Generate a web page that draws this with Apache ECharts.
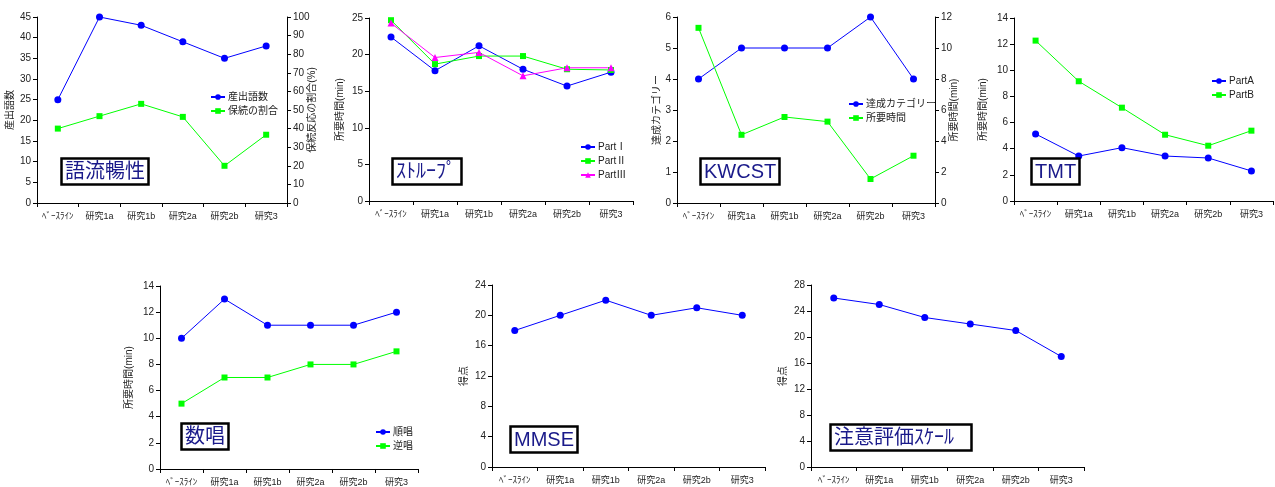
<!DOCTYPE html>
<html>
<head>
<meta charset="utf-8">
<script src="https://cdn.jsdelivr.net/npm/echarts@6/dist/echarts.min.js"></script>
<style>
  body { margin: 0; background: #fff; }
  #main { width: 1275px; height: 487px; }
</style>
</head>
<body>
<div id="main"></div>
<script>
  // categories
  var cats = ['ﾍﾞｰｽﾗｲﾝ', '研究1a', '研究1b', '研究2a', '研究2b', '研究3'];

  // 語流暢性
  var words = [25, 45, 43, 39, 35, 38];
  var persev = [40, 46.7, 53.3, 46.3, 20, 36.7];
  // ストループ
  var stroop1 = [22.4, 17.8, 21.2, 18.0, 15.7, 17.6];
  var stroop2 = [24.7, 18.7, 19.8, 19.8, 18.0, 17.9];
  var stroop3 = [24.3, 19.6, 20.3, 17.1, 18.2, 18.2];
  // KWCST
  var kwCat = [4, 5, 5, 5, 6, 4];
  var kwTime = [11.3, 4.4, 5.55, 5.25, 1.55, 3.05];
  // TMT
  var tmtA = [5.13, 3.44, 4.08, 3.44, 3.29, 2.3];
  var tmtB = [12.27, 9.16, 7.14, 5.07, 4.23, 5.38];
  // 数唱
  var digitFwd = [10, 13, 11, 11, 11, 12];
  var digitBwd = [5, 7, 7, 8, 8, 9];
  // MMSE
  var mmse = [18, 20, 22, 20, 21, 20];
  // 注意評価スケール
  var attn = [26, 25, 23, 22, 21, 17];

  var FONT = "'Liberation Sans', 'Noto Sans CJK JP', sans-serif";
  var BLUE = '#0000ff', GREEN = '#00ff00', PINK = '#ff00ff';

  var chart = echarts.init(document.getElementById('main'));

  // panel boxes [left, right, top, bottom] in px
  var boxes = [
    [37, 287, 17, 203],
    [369, 633, 18, 201],
    [677, 935, 17, 203],
    [1014, 1273, 18, 201],
    [160, 418, 286, 469],
    [492, 765, 285, 467],
    [811, 1084, 285, 467]
  ];

  var grids = [], xAxes = [], yAxes = [], series = [], legends = [], titles = [];

  boxes.forEach(function (b, i) {
    grids.push({left: b[0], width: b[1] - b[0], top: b[2], height: b[3] - b[2]});
    xAxes.push({
      type: 'category', gridIndex: i, data: cats, boundaryGap: true,
      axisLine: {lineStyle: {color: '#000', width: 1}},
      axisTick: {show: true, length: 4, lineStyle: {color: '#000'}},
      axisLabel: {fontSize: 9, color: '#222', fontFamily: FONT, margin: 9},
      splitLine: {show: false}
    });
  });

  function yAx(grid, max, interval, name, gap, right) {
    return {
      type: 'value', gridIndex: grid, min: 0, max: max, interval: interval,
      position: right ? 'right' : 'left',
      name: name, nameLocation: 'middle', nameGap: gap, nameMoveOverlap: false,
      nameTextStyle: {fontSize: 10, color: '#222', fontFamily: FONT},
      axisLine: {show: true, lineStyle: {color: '#000', width: 1}},
      axisTick: {show: true, length: 4, lineStyle: {color: '#000'}},
      axisLabel: {fontSize: 10, color: '#222', fontFamily: FONT, margin: 6},
      splitLine: {show: false}
    };
  }

  function line(name, data, color, symbol, size, xi, yi) {
    return {
      name: name, type: 'line', data: data, xAxisIndex: xi, yAxisIndex: yi,
      symbol: symbol, symbolSize: size, showSymbol: true,
      lineStyle: {color: color, width: 1},
      itemStyle: {color: color},
      animation: false
    };
  }

  yAxes.push(yAx(0, 45, 5, '産出語数', 22));                 // 0
  yAxes.push(yAx(0, 100, 10, '保続反応の割合(%)', 20, true)); // 1
  yAxes.push(yAx(1, 25, 5, '所要時間(min)', 24));             // 2
  yAxes.push(yAx(2, 6, 1, '達成カテゴリー', 15));             // 3
  yAxes.push(yAx(2, 12, 2, '所要時間(min)', 14, true));       // 4
  yAxes.push(yAx(3, 14, 2, '所要時間(min)', 26));             // 5
  yAxes.push(yAx(4, 14, 2, '所要時間(min)', 26));             // 6
  yAxes.push(yAx(5, 24, 4, '得点', 23));                      // 7
  yAxes.push(yAx(6, 28, 4, '得点', 23));                      // 8

  series.push(line('産出語数', words, BLUE, 'circle', 7, 0, 0));
  series.push(line('保続の割合', persev, GREEN, 'rect', 6, 0, 1));
  series.push(line('PartⅠ', stroop1, BLUE, 'circle', 7, 1, 2));
  series.push(line('PartⅡ', stroop2, GREEN, 'rect', 6, 1, 2));
  series.push(line('PartⅢ', stroop3, PINK, 'triangle', 7, 1, 2));
  series.push(line('達成カテゴリー', kwCat, BLUE, 'circle', 7, 2, 3));
  series.push(line('所要時間', kwTime, GREEN, 'rect', 6, 2, 4));
  series.push(line('PartA', tmtA, BLUE, 'circle', 7, 3, 5));
  series.push(line('PartB', tmtB, GREEN, 'rect', 6, 3, 5));
  series.push(line('順唱', digitFwd, BLUE, 'circle', 7, 4, 6));
  series.push(line('逆唱', digitBwd, GREEN, 'rect', 6, 4, 6));
  series.push(line('MMSE', mmse, BLUE, 'circle', 7, 5, 7));
  series.push(line('注意評価', attn, BLUE, 'circle', 7, 6, 8));

  function leg(names, left, top) {
    return {
      data: names, left: left, top: top, orient: 'vertical',
      itemWidth: 14, itemHeight: 7, itemGap: 4,
      textStyle: {fontSize: 10, color: '#222', fontFamily: FONT, padding: [0, 0, 0, -2]},
      selectedMode: false
    };
  }
  legends.push(leg(['産出語数', '保続の割合'], 205, 87));
  legends.push(leg(['PartⅠ', 'PartⅡ', 'PartⅢ'], 575, 137));
  legends.push(leg(['達成カテゴリー', '所要時間'], 843, 94));
  legends.push(leg(['PartA', 'PartB'], 1206, 71));
  legends.push(leg(['順唱', '逆唱'], 370, 422));

  function ttl(text, left, top, w, h) {
    return {
      text: text, left: left, top: top,
      borderColor: '#000', borderWidth: 2.5, backgroundColor: '#fff',
      padding: [3, 4, 2, 4],
      textStyle: {fontSize: 20, color: '#1a1a8a', fontWeight: 'normal', fontFamily: FONT, width: w, height: h, lineHeight: h}
    };
  }
  titles.push(ttl('語流暢性', 61, 158, 80, 22));
  titles.push(ttl('ｽﾄﾙｰﾌﾟ', 392, 158, 62, 22));
  titles.push(ttl('KWCST', 700, 158, 62, 22));
  titles.push(ttl('TMT', 1031, 158, 36, 22));
  titles.push(ttl('数唱', 181, 423, 37, 22));
  titles.push(ttl('MMSE', 510, 426, 50, 22));
  titles.push(ttl('注意評価ｽｹｰﾙ', 830, 424, 134, 22));

  chart.setOption({
    animation: false,
    title: titles,
    legend: legends,
    grid: grids,
    xAxis: xAxes,
    yAxis: yAxes,
    series: series
  });
</script>
</body>
</html>
